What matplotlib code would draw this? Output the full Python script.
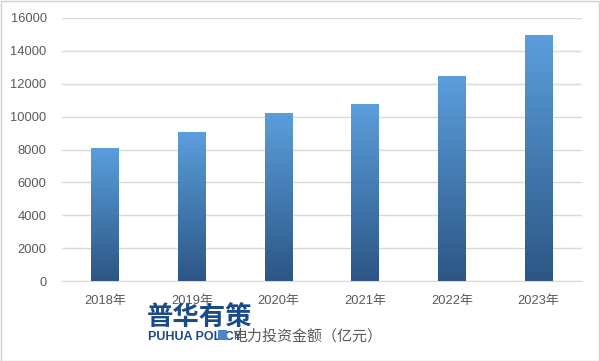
import matplotlib.pyplot as plt
import numpy as np
from matplotlib.colors import LinearSegmentedColormap

plt.rcParams['font.family'] = ['Liberation Sans', 'Noto Sans CJK SC', 'DejaVu Sans']

# --- data ---
years = ['2018年', '2019年', '2020年', '2021年', '2022年', '2023年']
invest = [8090, 9060, 10200, 10750, 12450, 14950]
yticks = [0, 2000, 4000, 6000, 8000, 10000, 12000, 14000, 16000]
legend_label = '电力投资金额（亿元）'

fig = plt.figure(figsize=(6, 3.61), dpi=100)
ax = fig.add_axes([62 / 600, 1 - 281 / 361, 520 / 600, 263 / 361])

x = np.arange(len(years))
bars = ax.bar(x, invest, width=0.32, color='#4A86C5', zorder=2, label=legend_label)

# gradient fill, light at top, dark at bottom of every bar
cmap = LinearSegmentedColormap.from_list('grad', ['#2C5684', '#5B9EDC'])
grad = np.linspace(0, 1, 256).reshape(-1, 1)
for b in bars:
    x0, y0 = b.get_x(), b.get_y()
    w, h = b.get_width(), b.get_height()
    im = ax.imshow(grad, cmap=cmap, origin='lower', aspect='auto',
                   extent=[x0, x0 + w, y0, y0 + h], zorder=3)
    im.set_clip_path(b)

ax.set_xlim(-0.5, len(years) - 0.5)
ax.set_ylim(0, 16000)
ax.set_yticks(yticks)
ax.set_xticks(x)
ax.set_xticklabels(years)
ax.grid(axis='y', color='#D9D9D9', linewidth=1, zorder=0)
for s in ['top', 'right', 'left']:
    ax.spines[s].set_visible(False)
ax.spines['bottom'].set_color('#D9D9D9')
ax.tick_params(length=0, colors='#595959', labelsize=9.3)
ax.tick_params(axis='y', pad=11)
ax.tick_params(axis='x', pad=10)

leg = fig.legend(handles=[bars], labels=[legend_label], loc='center',
                 bbox_to_anchor=(300 / 600, 1 - 336 / 361), frameon=False,
                 fontsize=10.8, handlelength=0.6, handleheight=0.6,
                 handletextpad=0.4, labelcolor='#595959')

# watermark
fig.text(147 / 600, 1 - 317 / 361, '普华有策', fontsize=19, fontweight='bold',
         color='#1B4A8A', va='center', ha='left', family='Noto Sans CJK SC')
fig.text(148 / 600, 1 - 337 / 361, 'PUHUA POLICY', fontsize=9, fontweight='bold',
         color='#1B4A8A', va='center', ha='left')

# light frame around the picture
fig.patches.append(plt.Rectangle((0.001, 0.001), 0.997, 0.996, transform=fig.transFigure,
                                 fill=False, edgecolor='#D0D0D0', linewidth=1))

fig.savefig('out.png', dpi=100)
